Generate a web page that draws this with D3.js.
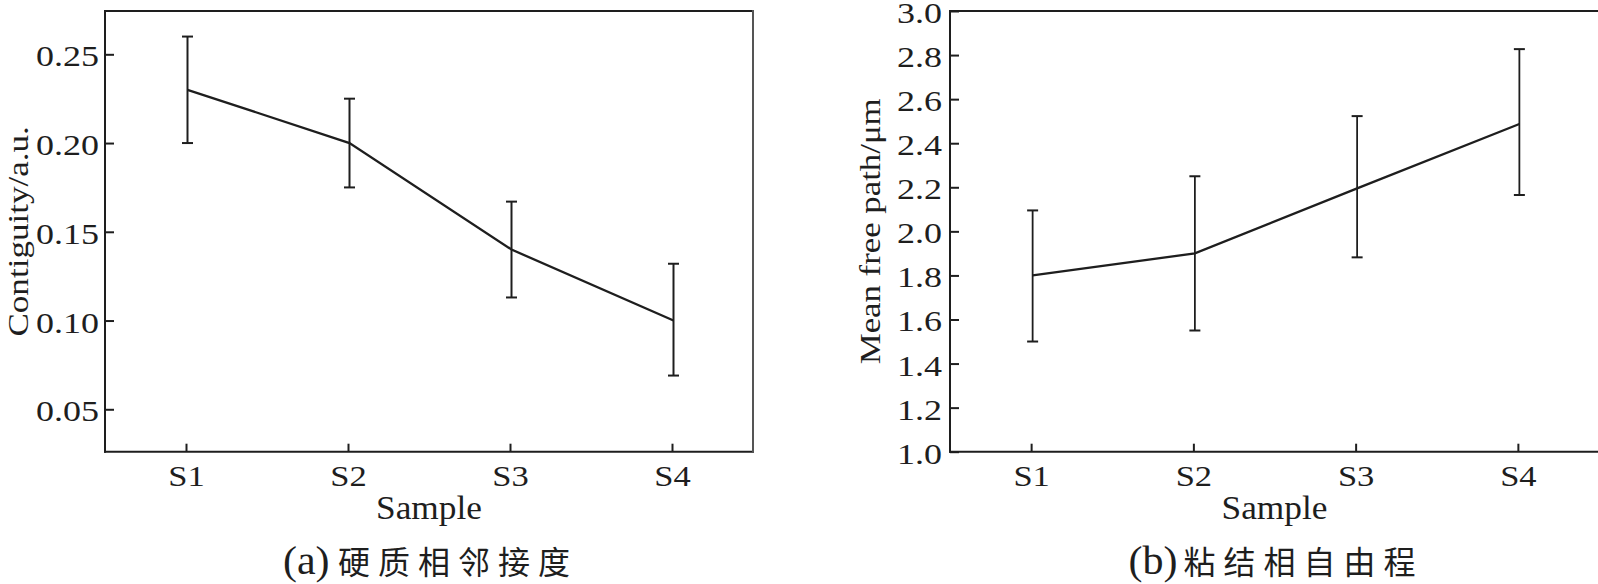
<!DOCTYPE html>
<html>
<head>
<meta charset="utf-8">
<script src="https://cdn.jsdelivr.net/npm/d3@7"></script>
<style>
  html, body { margin: 0; padding: 0; background: #fff; }
  svg { display: block; }
</style>
</head>
<body>
<svg id="chart" width="1598" height="584"></svg>
<script>
// ---------------- data ----------------
const categories = ["S1", "S2", "S3", "S4"];

const contiguityMean  = [0.230, 0.200, 0.140, 0.100];
const contiguityUpper = [0.260, 0.225, 0.167, 0.132];
const contiguityLower = [0.200, 0.175, 0.113, 0.069];
const contiguityTicks = [0.05, 0.10, 0.15, 0.20, 0.25];

const mfpMean  = [1.80, 1.90, 2.195, 2.487];
const mfpUpper = [2.095, 2.25, 2.523, 2.827];
const mfpLower = [1.50, 1.55, 1.882, 2.165];
const mfpTicks = [1.0, 1.2, 1.4, 1.6, 1.8, 2.0, 2.2, 2.4, 2.6, 2.8, 3.0];

const xLabel = "Sample";
const yLabelA = "Contiguity/a.u.";
const yLabelB = "Mean free path/\u03BCm";
const capTagA = "(a)", capTextA = "硬质相邻接度";
const capTagB = "(b)", capTextB = "粘结相自由程";

// ---------------- drawing ----------------
const svg = d3.select("#chart");
const SERIF = "'Liberation Serif', 'Times New Roman', serif";
const CJK = "'Noto Sans CJK SC', sans-serif";
const INK = "#1e1e1e";

function stretchedText(parent, x, y, str, opts) {
  const g = parent.append("g")
    .attr("transform", `translate(${x},${y}) rotate(${opts.rotate || 0}) scale(${opts.sx || 1},1)`);
  g.append("text")
    .attr("text-anchor", opts.anchor || "middle")
    .style("font-family", opts.family || SERIF)
    .style("font-size", opts.size + "px")
    .style("letter-spacing", (opts.ls || 0) + "px")
    .attr("fill", INK)
    .text(str);
  return g;
}

function panel(cfg) {
  const g = svg.append("g");
  const x = d3.scalePoint().domain(categories).range([cfg.x0, cfg.x1]).padding(0.5);
  const y = d3.scaleLinear().domain(cfg.domain).range([cfg.bottom, cfg.top]);

  // y axis (inner ticks)
  const yAx = g.append("g").attr("transform", `translate(${cfg.x0},0)`)
    .call(d3.axisLeft(y).tickValues(cfg.ticks).tickFormat(d3.format(cfg.fmt))
      .tickSizeInner(-9).tickSizeOuter(0));
  yAx.select(".domain").remove();
  yAx.selectAll(".tick line").attr("stroke", INK).attr("stroke-width", 2);
  yAx.selectAll(".tick text")
    .attr("x", 0).attr("dy", null)
    .attr("transform", `translate(${-cfg.ylabPad},11.5) scale(1.2,1)`)
    .attr("text-anchor", "end")
    .attr("fill", INK)
    .style("font-family", SERIF).style("font-size", "30px");

  // x axis (inner ticks)
  const xAx = g.append("g").attr("transform", `translate(0,${cfg.bottom})`)
    .call(d3.axisBottom(x).tickSizeInner(-8).tickSizeOuter(0));
  xAx.select(".domain").remove();
  xAx.selectAll(".tick line").attr("stroke", INK).attr("stroke-width", 2);
  xAx.selectAll(".tick text")
    .attr("y", 0).attr("dy", null)
    .attr("transform", "translate(0,34.5) scale(1.15,1)")
    .attr("text-anchor", "middle")
    .attr("fill", INK)
    .style("font-family", SERIF).style("font-size", "30px");

  // frame
  g.append("line").attr("x1", cfg.x0).attr("x2", cfg.x0).attr("y1", cfg.top - 1).attr("y2", cfg.bottom + 1)
    .attr("stroke", INK).attr("stroke-width", 2);
  g.append("line").attr("x1", cfg.x0 - 1).attr("x2", cfg.x1 + 1).attr("y1", cfg.bottom).attr("y2", cfg.bottom)
    .attr("stroke", INK).attr("stroke-width", 2);
  g.append("line").attr("x1", cfg.x0 - 1).attr("x2", cfg.x1 + 1).attr("y1", cfg.top).attr("y2", cfg.top)
    .attr("stroke", INK).attr("stroke-width", 2);
  g.append("line").attr("x1", cfg.x1).attr("x2", cfg.x1).attr("y1", cfg.top - 1).attr("y2", cfg.bottom + 1)
    .attr("stroke", "#555").attr("stroke-width", 2);

  // data
  const rows = categories.map((c, i) => ({ c, m: cfg.mean[i], lo: cfg.lower[i], hi: cfg.upper[i] }));
  const dg = g.append("g").attr("transform", "translate(1.5,0)");
  const bars = dg.selectAll(".eb").data(rows).join("g").attr("class", "eb");
  bars.append("line")
    .attr("x1", d => x(d.c)).attr("x2", d => x(d.c))
    .attr("y1", d => y(d.hi)).attr("y2", d => y(d.lo))
    .attr("stroke", INK).attr("stroke-width", cfg.ebw);
  bars.append("line")
    .attr("x1", d => x(d.c) - 5.5).attr("x2", d => x(d.c) + 5.5)
    .attr("y1", d => y(d.hi)).attr("y2", d => y(d.hi))
    .attr("stroke", INK).attr("stroke-width", 2);
  bars.append("line")
    .attr("x1", d => x(d.c) - 5.5).attr("x2", d => x(d.c) + 5.5)
    .attr("y1", d => y(d.lo)).attr("y2", d => y(d.lo))
    .attr("stroke", INK).attr("stroke-width", 2);
  dg.append("path").datum(rows)
    .attr("fill", "none").attr("stroke", INK).attr("stroke-width", 2.3)
    .attr("d", d3.line().x(d => x(d.c)).y(d => y(d.m)));

  // labels
  const cxPlot = (cfg.x0 + cfg.x1) / 2;
  stretchedText(g, cxPlot, 519, xLabel, { size: 33, sx: 1.07 });
  stretchedText(g, cfg.ylabX, (cfg.top + cfg.bottom) / 2, cfg.ylabel, { size: 30, rotate: -90, sx: cfg.ylabSx });
  stretchedText(g, cxPlot - 146, 574, cfg.tag, { size: 40, anchor: "start", sx: 1.05 });
  stretchedText(g, cxPlot - 91, 574, cfg.cap, { size: 32, anchor: "start", ls: 8, family: CJK });
}

panel({
  x0: 105, x1: 753, top: 11, bottom: 451.7,
  domain: [0.0261, 0.2744], ticks: contiguityTicks, fmt: ".2f", ylabPad: 6,
  mean: contiguityMean, lower: contiguityLower, upper: contiguityUpper, ebw: 2,
  ylabel: yLabelA, ylabX: 27.5, ylabSx: 1.17, tag: capTagA, cap: capTextA
});

panel({
  x0: 950, x1: 1599, top: 11, bottom: 451.7,
  domain: [1.0, 3.0], ticks: mfpTicks, fmt: ".1f", ylabPad: 8,
  mean: mfpMean, lower: mfpLower, upper: mfpUpper, ebw: 1.8,
  ylabel: yLabelB, ylabX: 880, ylabSx: 1.16, tag: capTagB, cap: capTextB
});
</script>
</body>
</html>
